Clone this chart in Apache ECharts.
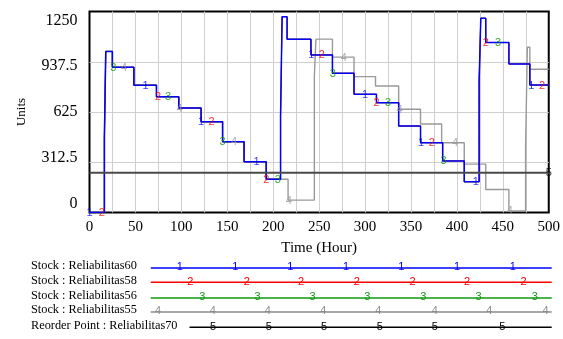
<!DOCTYPE html>
<html>
<head>
<meta charset="utf-8">
<script src="https://cdn.jsdelivr.net/npm/echarts@6/dist/echarts.min.js"></script>
<style>
html,body{margin:0;padding:0;background:#fff;}
#c{width:563px;height:339px;}
</style>
</head>
<body>
<div id="c"></div>
<script>
// ---- data ----
const xTicks = [0, 50, 100, 150, 200, 250, 300, 350, 400, 450, 500];
const yTicks = [0, 312.5, 625, 937.5, 1250];
const xTitle = 'Time (Hour)';
const yTitle = 'Units';
const legendNames = ['Stock : Reliabilitas60', 'Stock : Reliabilitas58', 'Stock : Reliabilitas56', 'Stock : Reliabilitas55', 'Reorder Point : Reliabilitas70'];

// step series: value holds from time[i] until time[i+1]
const stock60Times  = [0, 16.2, 17.7, 24.9, 48.3, 72.9, 97.2, 121.5, 144.9, 168.3, 192.4, 208, 209.7, 215.1, 241.1, 264.5, 288, 312.4, 336.6, 360.4, 384.5, 408, 424.2, 426, 431.4, 456.6, 479.4, 500];
const stock60Values = [0, 463, 1002, 903, 792, 720, 650, 564, 440, 315, 207, 596, 1218, 1078, 980, 866, 735, 683, 538, 434, 321, 191, 814, 1208, 1057, 924, 793, 793];
const stock58Times  = [0, 16.2, 17.7, 24.9, 48.3, 72.9, 97.2, 121.5, 144.9, 168.3, 192.4, 208, 209.7, 215.1, 241.1, 264.5, 288, 312.4, 336.6, 360.4, 384.5, 408, 424.2, 426, 431.4, 456.6, 479.4, 500];
const stock58Values = [0, 463, 1002, 903, 792, 720, 650, 564, 440, 315, 207, 596, 1218, 1078, 980, 866, 735, 683, 538, 434, 321, 191, 814, 1208, 1057, 924, 793, 793];
const stock56Times  = [0, 16.2, 17.7, 24.9, 48.3, 72.9, 97.2, 121.5, 144.9, 168.3, 192.4, 208, 209.7, 215.1, 241.1, 264.5, 288, 312.4, 336.6, 360.4, 384.5, 408, 424.2, 426, 431.4, 456.6, 479.4, 500];
const stock56Values = [0, 463, 1002, 903, 792, 720, 650, 564, 440, 315, 207, 596, 1218, 1078, 980, 866, 735, 683, 538, 434, 321, 191, 814, 1208, 1057, 924, 793, 793];
const stock55Times  = [0, 16.2, 17.7, 24.9, 48.3, 72.9, 97.2, 121.5, 144.9, 168.3, 192.4, 216.2, 244.8, 246.5, 264.5, 288, 311.4, 336.6, 360.4, 383.4, 408, 431.4, 456.6, 474.8, 476.7, 479.4, 500];
const stock55Values = [0, 463, 1002, 903, 792, 720, 650, 564, 440, 315, 207, 77, 849, 1078, 966, 845, 787, 642, 550, 434, 301, 143, 10, 413, 1028, 891, 891];
const reorderTimes  = [0, 500];
const reorderValues = [247, 247];

// times at which the series number markers sit on each line
const marks60 = [0, 61, 121.5, 182, 241.5, 300, 361, 420.5, 481];
const marks58 = [13.4, 74.6, 133, 192.4, 253, 312.4, 372.6, 431.5, 492.6];
const marks56 = [26, 85.4, 145, 205, 265, 325, 385.6, 444.7];
const marks55 = [37.5, 98, 157.5, 217, 277, 337.7, 398, 457.7];
const marks70 = [500];

// ---- helpers ----
function pairs(ts, vs) { return ts.map((t, i) => [t, vs[i]]); }
function valueAt(ts, vs, t) {
  let v = vs[0];
  for (let i = 0; i < ts.length; i++) { if (ts[i] <= t) v = vs[i]; }
  return v;
}

const SERIF = '"Liberation Serif", "Times New Roman", serif';
const SANS = '"Liberation Sans", Arial, sans-serif';

const lineDefs = [
  { ts: stock55Times, vs: stock55Values, color: '#999999', marks: marks55, num: '4', w: 1.4 },
  { ts: stock56Times, vs: stock56Values, color: '#009900', marks: marks56, num: '3', w: 0.8 },
  { ts: stock58Times, vs: stock58Values, color: '#ff0000', marks: marks58, num: '2', w: 0.8 },
  { ts: stock60Times, vs: stock60Values, color: '#0000ff', marks: marks60, num: '1', w: 1.5 },
  { ts: reorderTimes, vs: reorderValues, color: '#4a4a4a', marks: marks70, num: '5', w: 2, label: '#000' }
];

const series = [];
lineDefs.forEach(d => {
  series.push({
    type: 'line', xAxisIndex: 0, yAxisIndex: 0,
    data: pairs(d.ts, d.vs), step: 'end', showSymbol: false, symbol: 'none',
    lineStyle: { color: d.color, width: d.w }, silent: true, z: 3
  });
});
lineDefs.forEach(d => {
  series.push({
    type: 'scatter', xAxisIndex: 0, yAxisIndex: 0, clip: false,
    data: d.marks.map(t => [t, valueAt(d.ts, d.vs, t)]),
    symbol: 'circle', symbolSize: 0, silent: true, z: 5,
    label: { show: true, position: 'inside', offset: [0, 0.5], formatter: d.num,
             color: d.label || d.color, fontFamily: SANS, fontSize: 11 }
  });
});

// ---- legend (drawn below the plot) ----
const legendRows = [
  { y: 268,   x1: 150.8, marks: [179.7, 235.4, 290.3, 346, 401.4, 457.1, 512.8] },
  { y: 282.3, x1: 150.8, marks: [190.4, 246.9, 301.1, 356.8, 412.5, 467.1, 523.5] },
  { y: 298,   x1: 150.8, marks: [202.3, 257.6, 312.6, 367.2, 423.3, 478.6, 534.7] },
  { y: 312,   x1: 150.8, marks: [158.1, 212.7, 267.7, 323.4, 378.4, 434.8, 489.4, 545.5] },
  { y: 327.3, x1: 189.5, marks: [213.1, 268.8, 324.1, 379.8, 434.8, 502.3] }
];
const legendColors = ['#0000ff', '#ff0000', '#119911', '#8c8c8c', '#000000'];
const legendNums = ['1', '2', '3', '4', '5'];
const graphic = [];
legendRows.forEach((r, i) => {
  graphic.push({ type: 'text', left: 31, top: r.y - 8, silent: true,
    style: { text: legendNames[i], font: '12.3px ' + SERIF, fill: '#000' } });
  graphic.push({ type: 'line', silent: true,
    shape: { x1: r.x1, y1: r.y, x2: 551.7, y2: r.y },
    style: { stroke: legendColors[i], lineWidth: 1.5 } });
  r.marks.forEach(mx => {
    graphic.push({ type: 'text', x: mx, y: r.y - 0.8, silent: true,
      style: { text: legendNums[i], font: '11px ' + SANS, fill: legendColors[i], align: 'center', verticalAlign: 'middle' } });
  });
});

const chart = echarts.init(document.getElementById('c'), null, { renderer: 'canvas' });
chart.setOption({
  animation: false,
  backgroundColor: '#ffffff',
  grid: { left: 89.5, top: 11.5, width: 462, height: 201, show: true, borderColor: '#000', borderWidth: 2, backgroundColor: 'transparent', containLabel: false },
  xAxis: [{
    type: 'value', min: 0, max: 500, interval: 25,
    name: xTitle, nameLocation: 'middle', nameGap: 28,
    nameTextStyle: { fontFamily: SERIF, fontSize: 15, color: '#000' },
    axisLine: { show: false }, axisTick: { show: false },
    axisLabel: { margin: 7.5, fontFamily: SERIF, fontSize: 15, color: '#000',
      customValues: xTicks },
    splitLine: { show: true, showMinLine: false, showMaxLine: false, lineStyle: { color: '#cfcfcf', width: 1 } }
  }],
  yAxis: [{
    type: 'value', min: 0, max: 1250, interval: 312.5,
    name: yTitle, nameLocation: 'middle', nameGap: 61,
    nameTextStyle: { fontFamily: SERIF, fontSize: 13, color: '#000' },
    axisLine: { show: false }, axisTick: { show: false },
    axisLabel: { show: false },
    splitLine: { show: true, showMinLine: false, showMaxLine: false, lineStyle: { color: '#cfcfcf', width: 1 } }
  }, {
    type: 'value', position: 'left', min: -57.8, max: 1309.9,
    axisLine: { show: false }, axisTick: { show: false },
    axisLabel: { margin: 12, fontFamily: SERIF, fontSize: 16, color: '#000',
      customValues: yTicks, formatter: v => String(v) },
    splitLine: { show: false }
  }],
  graphic: graphic,
  series: series
});
</script>
</body>
</html>
